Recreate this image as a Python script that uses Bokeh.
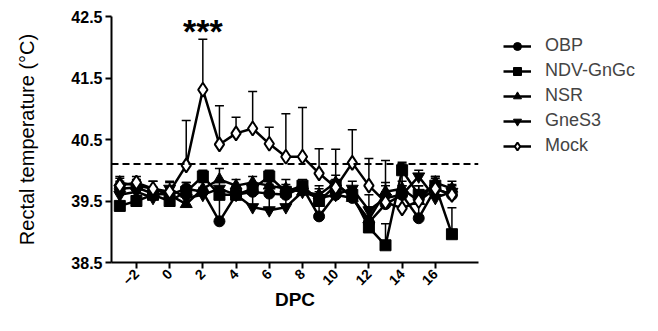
from bokeh.plotting import figure
from bokeh.models import Legend, LegendItem, FixedTicker, Span, Label, ColumnDataSource
from bokeh.embed import file_html
from bokeh.resources import INLINE
import math

days = list(range(-3, 18))

obp = [39.70, 39.72, 39.62, 39.60, 39.70, 39.65, 39.17, 39.60, 39.65, 39.62, 39.60, 39.72,
       39.25, 39.60, 39.55, 39.15, 39.45, 39.60, 39.22, 39.70, 39.60]
obp_err = [0.12, 0.10, 0.10, 0.12, 0.10, 0.15, 0.39, 0.12, 0.10, 0.15, 0.12, 0.10,
           0.20, 0.12, 0.15, 0.25, 0.20, 0.15, 0.25, 0.12, 0.10]

ndv = [39.42, 39.50, 39.60, 39.50, 39.65, 39.90, 39.60, 39.60, 39.70, 39.90, 39.65, 39.75,
       39.50, 39.75, 39.60, 39.07, 38.78, 40.00, 39.60, 39.75, 38.96]
ndv_err = [0.20, 0.18, 0.12, 0.15, 0.15, 0.10, 0.12, 0.12, 0.10, 0.10, 0.12, 0.10,
           0.15, 0.10, 0.12, 0.30, 0.35, 0.10, 0.15, 0.12, 0.43]

nsr = [39.80, 39.75, 39.70, 39.60, 39.45, 39.70, 39.85, 39.75, 39.80, 39.75, 39.70, 39.65,
       39.60, 39.80, 39.55, 39.20, 39.65, 39.70, 39.50, 39.80, 39.70]
nsr_err = [0.10, 0.10, 0.12, 0.12, 0.12, 0.15, 0.18, 0.10, 0.10, 0.12, 0.15, 0.12,
           0.15, 0.12, 0.15, 0.20, 0.15, 0.12, 0.15, 0.10, 0.12]

gnes3 = [39.60, 39.65, 39.55, 39.70, 39.55, 39.60, 39.70, 39.60, 39.40, 39.35, 39.40, 39.65,
         39.55, 39.60, 39.70, 39.35, 39.55, 39.60, 39.90, 39.55, 39.65]
gnes3_err = [0.15, 0.12, 0.15, 0.12, 0.15, 0.12, 0.12, 0.15, 0.25, 0.30, 0.20, 0.12,
             0.15, 0.15, 0.12, 0.25, 0.20, 0.15, 0.10, 0.15, 0.12]

mock = [39.75, 39.80, 39.70, 39.65, 40.08, 41.31, 40.42, 40.60, 40.68, 40.43, 40.22, 40.22,
        39.95, 39.72, 40.12, 39.75, 39.48, 39.38, 39.50, 39.70, 39.60]
mock_err = [0.12, 0.10, 0.12, 0.15, 0.73, 0.82, 0.63, 0.26, 0.60, 0.27, 0.70, 0.80,
            0.40, 0.62, 0.54, 0.44, 0.68, 0.75, 0.25, 0.20, 0.15]

names = ["OBP", "NDV-GnGc", "NSR", "GneS3", "Mock"]
values = [obp, ndv, nsr, gnes3, mock]
errors = [obp_err, ndv_err, nsr_err, gnes3_err, mock_err]
markers = ["circle", "square", "triangle", "inverted_triangle", "diamond"]
sizes = [11, 11, 12, 12, 14]
fills = ["black", "black", "black", "black", "white"]

threshold = 40.1
y_ticks = [38.5, 39.5, 40.5, 41.5, 42.5]
x_ticks = list(range(-2, 17, 2))

FONT = "Liberation Sans"

p = figure(frame_width=367, frame_height=246, min_border_left=111, min_border_top=16,
           min_border_bottom=69, min_border_right=180,
           x_range=(-3.5, 18.6), y_range=(38.5, 42.5),
           output_backend="svg", toolbar_location=None)
p.outline_line_color = None
p.grid.visible = False
p.background_fill_color = "white"
p.border_fill_color = "white"

for ax in (p.xaxis[0], p.yaxis[0]):
    ax.axis_line_width = 2
    ax.major_tick_line_width = 2
    ax.major_tick_out = 6
    ax.major_tick_in = 0
    ax.minor_tick_line_color = None
    ax.major_label_text_font = FONT
    ax.major_label_text_font_style = "bold"
    ax.major_label_text_color = "black"
    ax.axis_label_text_font = FONT
    ax.axis_label_text_color = "black"

p.yaxis.ticker = FixedTicker(ticks=y_ticks)
p.yaxis.major_label_text_font_size = "16px"
p.yaxis.axis_label = "Rectal temperature (°C)"
p.yaxis.axis_label_text_font_style = "normal"
p.yaxis.axis_label_text_font_size = "20px"
p.yaxis.axis_label_standoff = 30
p.yaxis.major_label_standoff = 3

p.xaxis.ticker = FixedTicker(ticks=x_ticks)
p.xaxis.major_label_orientation = math.pi / 4
p.xaxis.major_label_text_font_size = "14px"
p.xaxis.axis_label = "DPC"
p.xaxis.axis_label_text_font_style = "bold"
p.xaxis.axis_label_text_font_size = "19px"
p.xaxis.axis_label_standoff = -4
p.xaxis.major_label_standoff = 3

p.add_layout(Span(location=threshold, dimension="width", line_color="black",
                  line_width=2, line_dash="7 4"))

items = []
for name, vals, errs, mk, sz, fc in zip(names, values, errors, markers, sizes, fills):
    tops = [v + e for v, e in zip(vals, errs)]
    src = ColumnDataSource(dict(x=days, y=vals, top=tops))
    p.segment(x0="x", y0="y", x1="x", y1="top", source=src, line_color="black", line_width=1.5)
    p.scatter(x="x", y="top", source=src, marker="dash", size=9, line_color="black", line_width=1.5)
for name, vals, errs, mk, sz, fc in zip(names, values, errors, markers, sizes, fills):
    src = ColumnDataSource(dict(x=days, y=vals))
    ln = p.line(x="x", y="y", source=src, line_color="black", line_width=2.5)
    sc = p.scatter(x="x", y="y", source=src, marker=mk, size=sz, fill_color=fc,
                   line_color="black", line_width=2 if fc == "white" else 1)
    items.append(LegendItem(label=name, renderers=[ln, sc]))

legend = Legend(items=items, location=(25, 106), padding=0, margin=0, spacing=4,
                glyph_width=28, glyph_height=20, label_height=20, label_standoff=14,
                label_text_font=FONT, label_text_font_size="18px",
                label_text_baseline="middle",
                border_line_color=None, background_fill_alpha=0)
p.add_layout(legend, "right")

p.add_layout(Label(x=2, y=42.26, text="***", text_font=FONT, text_font_style="bold",
                   text_font_size="34px", text_align="center", text_baseline="middle",
                   text_color="black"))

open("out.html", "w").write(file_html(p, INLINE))
